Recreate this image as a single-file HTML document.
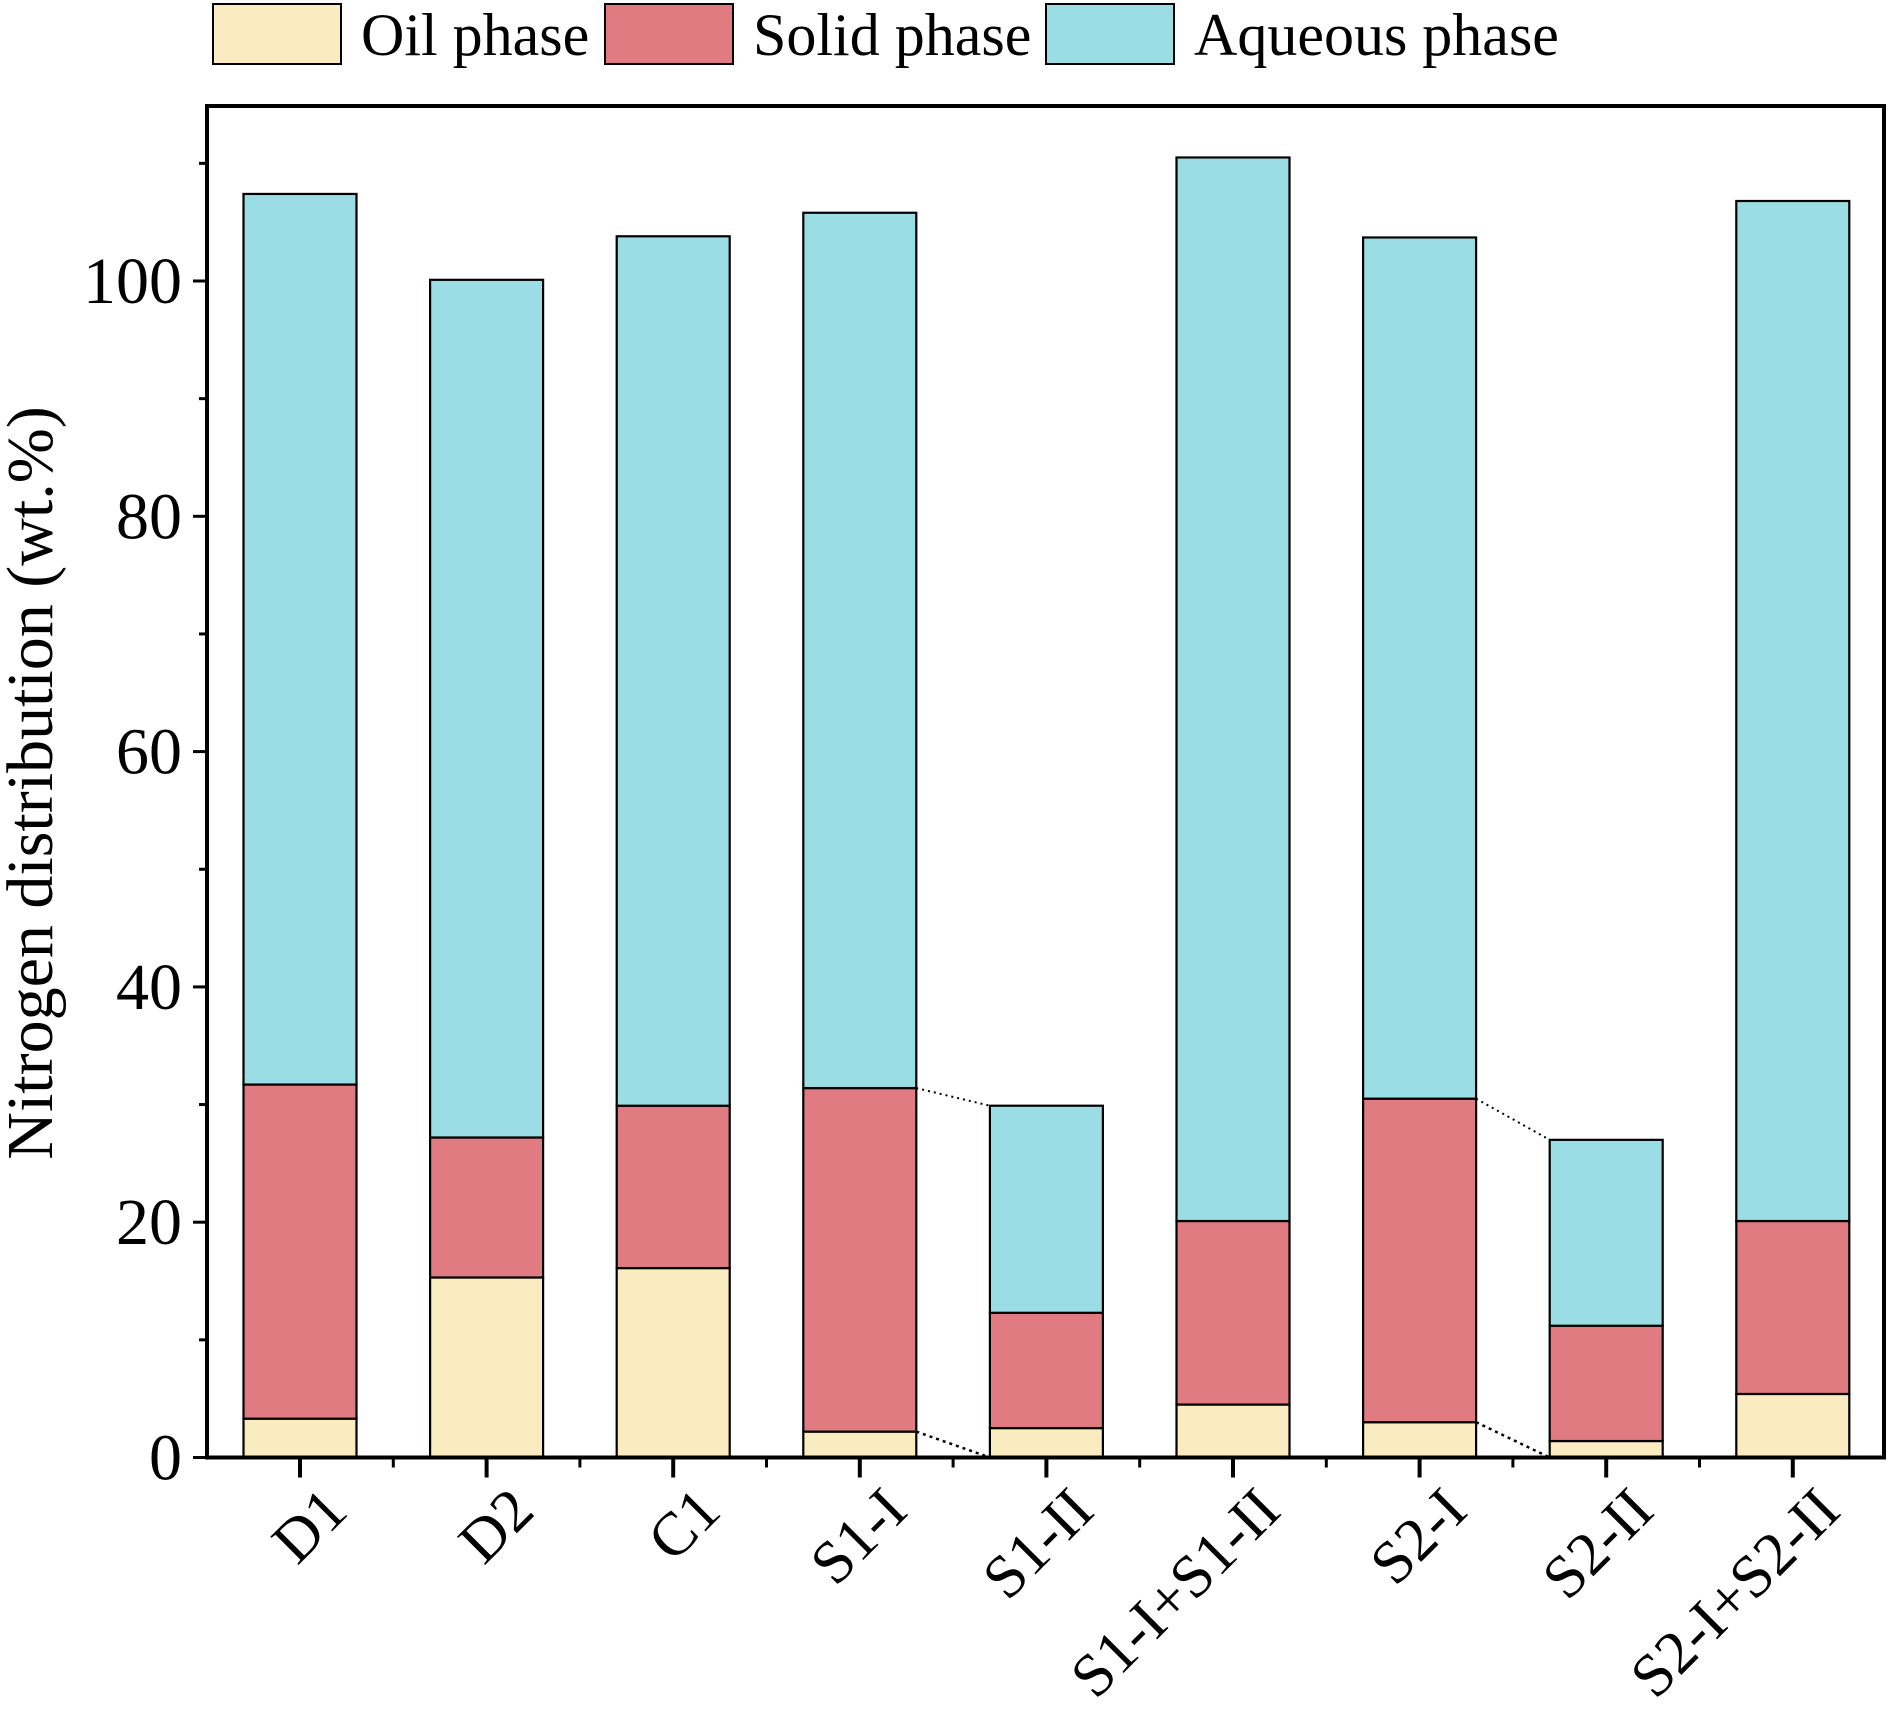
<!DOCTYPE html>
<html><head><meta charset="utf-8"><style>
html,body{margin:0;padding:0;background:#fff;}
svg{display:block;font-family:"Liberation Serif",serif;}
</style></head><body>
<svg id="chart" width="1890" height="1717" viewBox="0 0 1890 1717"></svg>
<script>
const categories=["D1","D2","C1","S1-I","S1-II","S1-I+S1-II","S2-I","S2-II","S2-I+S2-II"];
const oilValues=[3.3,15.3,16.1,2.2,2.5,4.5,3.0,1.4,5.4];
const solidValues=[28.4,11.9,13.8,29.2,9.8,15.6,27.5,9.8,14.7];
const aqueousValues=[75.7,72.9,73.9,74.4,17.6,90.4,73.2,15.8,86.7];
const yTicks=[0,20,40,60,80,100];
const seriesNames=["Oil phase","Solid phase","Aqueous phase"];
const seriesColors=["#FAEBC0","#E07B82","#9ADDE5"];
const links=[[3,4],[6,7]];

const NS="http://www.w3.org/2000/svg";
const svg=document.getElementById('chart');
const L=207,R=1884,T=106,B=1457.5;
const yMin=0;
function y(v){return B-(v-yMin)*11.765;}
const step=186.6,x0=300,bw=113;
function xc(i){return x0+i*step;}
function mk(tag,attrs,parent){const e=document.createElementNS(NS,tag);for(const k in attrs)e.setAttribute(k,attrs[k]);(parent||svg).appendChild(e);return e;}

const series=[oilValues,solidValues,aqueousValues];
const segNames=["oil","solid","aqueous"];
categories.forEach((c,i)=>{
  let base=0;
  series.forEach((arr,s)=>{
    const v=arr[i];
    const r=mk('rect',{x:xc(i)-bw/2,y:y(base+v),width:bw,height:y(base)-y(base+v),fill:seriesColors[s],stroke:'#000','stroke-width':2.2});
    
    
    base+=v;
  });
});
links.forEach(([a,b])=>{
  const solidTopA=oilValues[a]+solidValues[a];
  const totB=oilValues[b]+solidValues[b]+aqueousValues[b];
  const l1=mk('line',{x1:xc(a)+bw/2,y1:y(solidTopA),x2:xc(b)-bw/2,y2:y(totB),stroke:'#000','stroke-width':2,'stroke-dasharray':'2,4'});
  
  
  const l2=mk('line',{x1:xc(a)+bw/2,y1:y(oilValues[a]),x2:xc(b)-bw/2,y2:y(0),stroke:'#000','stroke-width':2.5,'stroke-dasharray':'3,4'});
  
  
});
const fr=mk('rect',{x:L,y:T,width:R-L,height:B-T,fill:'none',stroke:'#000','stroke-width':4});


for(let v=0;v<=110;v+=10){
  const major=v%20===0;
  mk('line',{x1:L,x2:L-(major?14:8),y1:y(v),y2:y(v),stroke:'#000','stroke-width':3});
}
yTicks.forEach(v=>{
  const t=mk('text',{x:182,y:y(v)+22,'text-anchor':'end','font-size':66,fill:'#000'});
  t.textContent=v;
  
  
});
categories.forEach((c,i)=>{
  mk('line',{x1:xc(i),x2:xc(i),y1:B,y2:B+20,stroke:'#000','stroke-width':4});
  if(i<categories.length-1) mk('line',{x1:xc(i)+step/2,x2:xc(i)+step/2,y1:B,y2:B+10,stroke:'#000','stroke-width':3});
  const tx=xc(i)+50,ty=B+56;
  const t=mk('text',{x:tx,y:ty,'text-anchor':'end','font-size':61,fill:'#000',transform:`rotate(-45 ${tx} ${ty})`});
  t.textContent=c;
  
  
});
const yt=mk('text',{x:0,y:0,'text-anchor':'middle','font-size':66,fill:'#000',transform:'translate(52 783) rotate(-90)'});
yt.textContent='Nitrogen distribution (wt.%)';


const lgX=[213,605,1046];
seriesNames.forEach((n,s)=>{
  const g=mk('g',{});
  
  
  mk('rect',{x:lgX[s],y:4,width:128,height:60,fill:seriesColors[s],stroke:'#000','stroke-width':2},g);
  const t=mk('text',{x:lgX[s]+148,y:55,'font-size':60,fill:'#000'},g);
  t.textContent=n;
});
</script>
</body></html>
